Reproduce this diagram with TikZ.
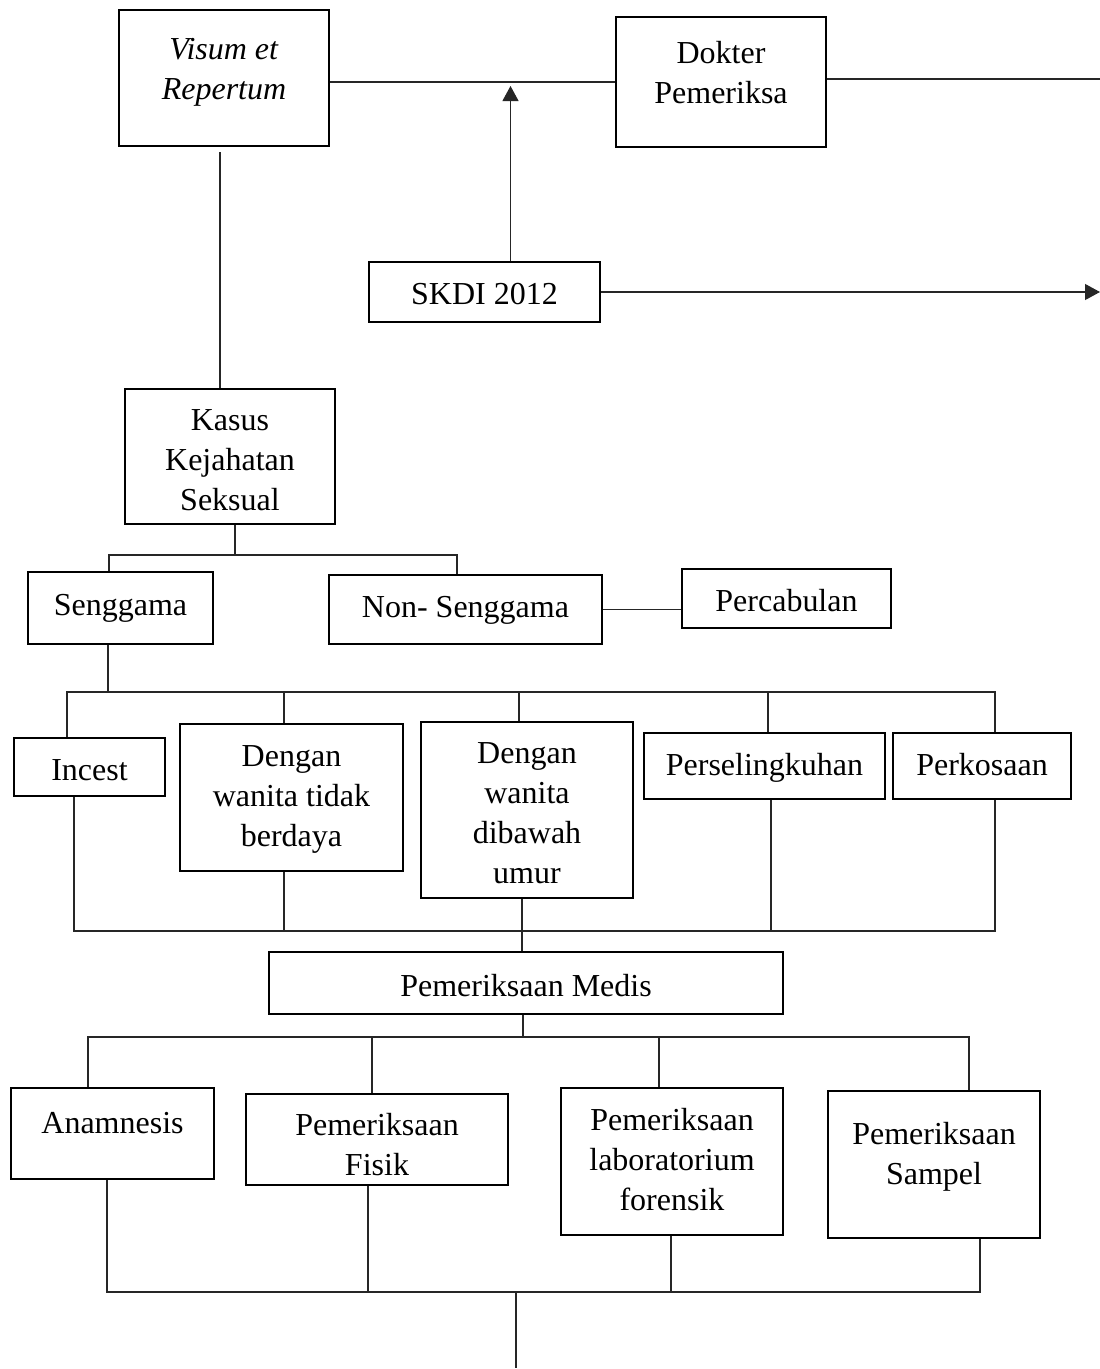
\documentclass[tikz,border=0pt]{standalone}
\usepackage{fontspec}
\setmainfont{Liberation Serif}
\usetikzlibrary{arrows.meta}
\tikzset{
  box/.style={draw=black, line width=2.5pt, rectangle, inner sep=0pt},
  txt/.style={align=center, inner sep=0pt, font=\fontsize{32}{40}\selectfont},
  con/.style={draw=black!85, line width=1.1pt},
  arr/.style={con, -{Triangle[length=15pt,width=16pt]}}
}
\begin{document}
\begin{tikzpicture}[x=1pt,y=-1pt]
\useasboundingbox[fill=white] (0,0) rectangle (1100,1369);
% boxes
\node[box, minimum width=210pt, minimum height=136pt] (visum) at (224,78) {};
\node[txt] (visumT) at (224,72) {\textit{Visum et}\\\textit{Repertum}};
\node[box, minimum width=210pt, minimum height=130pt] (dokter) at (721,82) {};
\node[txt] (dokterT) at (721,73) {Dokter\\Pemeriksa};
\node[box, minimum width=231pt, minimum height=60pt] (skdi) at (484.5,292) {};
\node[txt] (skdiT) at (484.5,294) {SKDI 2012};
\node[box, minimum width=210pt, minimum height=135pt] (kasus) at (230,456.5) {};
\node[txt] (kasusT) at (230,460) {Kasus\\Kejahatan\\Seksual};
\node[box, minimum width=185pt, minimum height=72pt] (seng) at (120.5,608) {};
\node[txt] (sengT) at (120.5,608) {Senggama};
\node[box, minimum width=273pt, minimum height=69pt] (nons) at (465.5,609.5) {};
\node[txt] (nonsT) at (465.5,610) {Non- Senggama};
\node[box, minimum width=209pt, minimum height=59pt] (perc) at (786.5,598.5) {};
\node[txt] (percT) at (786.5,601) {Percabulan};
\node[box, minimum width=151pt, minimum height=58pt] (incest) at (89.5,767) {};
\node[txt] (incestT) at (89.5,770) {Incest};
\node[box, minimum width=223pt, minimum height=147pt] (tidak) at (291.5,797.5) {};
\node[txt] (tidakT) at (291.5,799) {Dengan\\wanita tidak\\berdaya};
\node[box, minimum width=212pt, minimum height=176pt] (umur) at (527,810) {};
\node[txt] (umurT) at (527,813) {Dengan\\wanita\\dibawah\\umur};
\node[box, minimum width=241pt, minimum height=66pt] (sel) at (764.5,766) {};
\node[txt] (selT) at (764.5,768) {Perselingkuhan};
\node[box, minimum width=178pt, minimum height=66pt] (perk) at (982,766) {};
\node[txt] (perkT) at (982,765) {Perkosaan};
\node[box, minimum width=514pt, minimum height=62pt] (medis) at (526,983) {};
\node[txt] (medisT) at (526,986) {Pemeriksaan Medis};
\node[box, minimum width=203pt, minimum height=91pt] (anam) at (112.5,1133.5) {};
\node[txt] (anamT) at (112.5,1123) {Anamnesis};
\node[box, minimum width=262pt, minimum height=91pt] (fisik) at (377,1139.5) {};
\node[txt] (fisikT) at (377,1145) {Pemeriksaan\\Fisik};
\node[box, minimum width=222pt, minimum height=147pt] (lab) at (672,1161.5) {};
\node[txt] (labT) at (672,1159.5) {Pemeriksaan\\laboratorium\\forensik};
\node[box, minimum width=212pt, minimum height=147pt] (samp) at (934,1164.5) {};
\node[txt] (sampT) at (934,1157) {Pemeriksaan\\Sampel};
% coordinates
\coordinate (dokR) at (1100,79);
\coordinate (arrT) at (510.5,86);
\coordinate (skdiR) at (1100,292);
\coordinate (vk) at (220,152);
\coordinate (b1M) at (235,555);
\coordinate (b1L) at (109,555);
\coordinate (b1R) at (457,555);
\coordinate (b2S) at (108,692);
\coordinate (b2L) at (67,692);
\coordinate (b2R) at (995,692);
\coordinate (b2a) at (284,692);
\coordinate (b2b) at (519,692);
\coordinate (b2c) at (768,692);
\coordinate (b3L) at (74,931);
\coordinate (b3R) at (995,931);
\coordinate (b3a) at (284,931);
\coordinate (b3b) at (522,931);
\coordinate (b3c) at (771,931);
\coordinate (b4M) at (523,1037);
\coordinate (b4L) at (88,1037);
\coordinate (b4R) at (969,1037);
\coordinate (b4a) at (372,1037);
\coordinate (b4b) at (659,1037);
\coordinate (b5L) at (107,1292);
\coordinate (b5R) at (980,1292);
\coordinate (b5a) at (368,1292);
\coordinate (b5b) at (671,1292);
\coordinate (b5M) at (516,1292);
\coordinate (endB) at (516,1368);
% connectors
\draw[con] (visum.east |- dokter.west) -- (dokter.west);
\draw[con] (dokter.east |- dokR) -- (dokR);
\draw[arr] (arrT |- skdi.north) -- (arrT);
\draw[arr] (skdi.east) -- (skdiR);
\draw[con] (vk) -- (vk |- kasus.north);
\draw[con] (b1M |- kasus.south) -- (b1M);
\draw[con] (b1L |- seng.north) -- (b1L) -- (b1R) -- (b1R |- nons.north);
\draw[con] (nons.east) -- (nons.east -| perc.west);
\draw[con] (b2S |- seng.south) -- (b2S);
\draw[con] (b2L |- incest.north) -- (b2L) -- (b2R) -- (b2R |- perk.north);
\draw[con] (b2a) -- (b2a |- tidak.north);
\draw[con] (b2b) -- (b2b |- umur.north);
\draw[con] (b2c) -- (b2c |- sel.north);
\draw[con] (b3L |- incest.south) -- (b3L) -- (b3R) -- (b3R |- perk.south);
\draw[con] (b3a |- tidak.south) -- (b3a);
\draw[con] (b3b |- umur.south) -- (b3b |- medis.north);
\draw[con] (b3c |- sel.south) -- (b3c);
\draw[con] (b4M |- medis.south) -- (b4M);
\draw[con] (b4L |- anam.north) -- (b4L) -- (b4R) -- (b4R |- samp.north);
\draw[con] (b4a) -- (b4a |- fisik.north);
\draw[con] (b4b) -- (b4b |- lab.north);
\draw[con] (b5L |- anam.south) -- (b5L) -- (b5R) -- (b5R |- samp.south);
\draw[con] (b5a |- fisik.south) -- (b5a);
\draw[con] (b5b |- lab.south) -- (b5b);
\draw[con] (b5M) -- (endB);
\end{tikzpicture}
\end{document}
